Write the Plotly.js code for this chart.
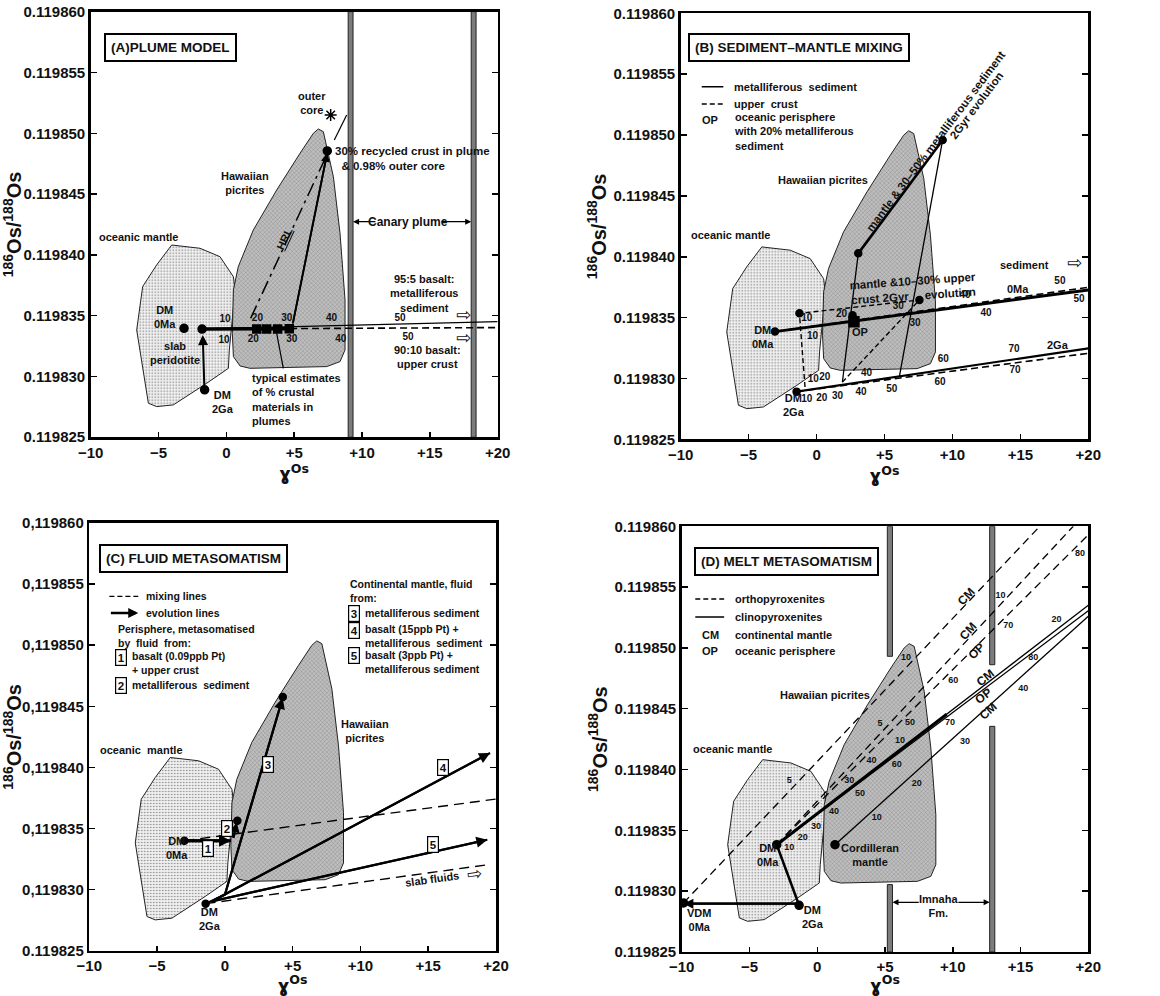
<!DOCTYPE html>
<html><head><meta charset="utf-8">
<script src="https://cdn.plot.ly/plotly-3.0.1.min.js"></script>
<style>html,body{margin:0;padding:0;background:#fff}#chart{width:1160px;height:996px}</style>
</head><body><div id="chart"></div>
<script>
// ---------- shared axes ----------
const xTickVals = [-10, -5, 0, 5, 10, 15, 20];
const xTickText = ['\u221210', '\u22125', '0', '+5', '+10', '+15', '+20'];
const yTickVals = [0.119825, 0.119830, 0.119835, 0.119840, 0.119845, 0.119850, 0.119855, 0.119860];
const yTickText = ['0.119825', '0.119830', '0.119835', '0.119840', '0.119845', '0.119850', '0.119855', '0.119860'];
const yTickTextC = ['0.119825', '0,119830', '0,119835', '0,119840', '0,119845', '0,119850', '0,119855', '0,119860'];

// ---------- shared fields ----------
const oceanicX = [-4.03, -1.94, -0.47, 0.52, 0.64, 0.22, 0.15, -1.45, -3.91, -5.14, -5.75, -6.61, -6.17, -5.14];
const oceanicY = [0.11984081, 0.11984054, 0.11983985, 0.1198382, 0.1198371, 0.11983218, 0.11983067, 0.11982944, 0.11982766, 0.11982752, 0.1198278, 0.11983382, 0.11983739, 0.11983917];
const hawaiiX = [6.78, 7.15, 7.89, 8.38, 8.75, 8.75, 8.38, 7.40, 1.74, 1.01, 0.52, 0.44, 0.52, 0.88, 1.99, 3.71, 5.43, 6.41];
const hawaiiY = [0.11985035, 0.11985013, 0.11984643, 0.11984177, 0.11983629, 0.11983218, 0.11983122, 0.11983081, 0.11983067, 0.11983086, 0.11983163, 0.11983355, 0.11983711, 0.11983903, 0.11984205, 0.11984533, 0.11984835, 0.11984999];

// ---------- panel A : plume model ----------
const aPtsX = [-3.12, -1.79, -1.60, 7.44];
const aPtsY = [0.11983396, 0.1198339, 0.1198289, 0.11984855];
const aSedX = [-1.79, 20];   const aSedY = [0.1198339, 0.11983451];
const aCrustX = [-1.79, 20]; const aCrustY = [0.1198339, 0.11983402];
const aThickX = [-1.79, 4.9]; const aThickY = [0.1198339, 0.11983393];
const aEstX = [2.24, 2.97, 3.78, 4.64]; const aEstY = [0.1198339, 0.1198339, 0.11983391, 0.11983392];
const aHrlX = [1.79, 7.4];   const aHrlY = [0.11983478, 0.1198482];
const aRecX = [4.9, 7.44];   const aRecY = [0.11983435, 0.1198484];
const aEvoX = [-1.62, -1.74]; const aEvoY = [0.1198290, 0.1198334];
const aCoreX = [7.69];       const aCoreY = [0.1198515];
const aSedLblX = [-0.1, 2.29, 4.45, 7.76, 12.8];
const aSedLblY = [0.11983465, 0.11983473, 0.11983473, 0.11983478, 0.11983478];
const aCrustLblX = [-0.17, 1.99, 4.82, 8.43, 13.4];
const aCrustLblY = [0.11983295, 0.119833, 0.11983306, 0.11983306, 0.11983322];
const aPctLbl = ['10', '20', '30', '40', '50'];
const aBandX = [9.16, 18.23];
const aCanaryY = 0.11984273;

// ---------- panel B : sediment-mantle mixing ----------
const bPtsX = [-3.06, -1.47, -1.26, 7.57, 3.07, 9.28, 2.65];
const bPtsY = [0.11983385, 0.11982892, 0.11983535, 0.11983645, 0.11984028, 0.1198496, 0.1198352];
const bOpX = [2.75]; const bOpY = [0.11983467];
const bSed0X = [-3.06, 20];   const bSed0Y = [0.11983385, 0.11983727];
const bCrust0X = [-3.06, 20]; const bCrust0Y = [0.11983385, 0.11983749];
const bSed2X = [-1.47, 20];   const bSed2Y = [0.11982892, 0.11983248];
const bCrust2X = [-1.47, 20]; const bCrust2Y = [0.11982892, 0.11983207];
const bMixSedX = [1.9, 3.07, 9.28, 6.1];
const bMixSedY = [0.1198297, 0.11984028, 0.1198496, 0.1198302];
const bMixCrustX = [-0.85, -1.26, 7.57];
const bMixCrustY = [0.1198293, 0.11983535, 0.11983645];
const bDiagX = [1.9, 7.57]; const bDiagY = [0.1198297, 0.11983645];
const bCrust0LblX = [-0.72, 1.84, 6.02, 10.93, 17.91];
const bCrust0LblY = [0.11983494, 0.11983522, 0.1198359, 0.11983678, 0.11983796];
const bCrust0Lbl = ['10', '20', '30', '40', '50'];
const bSed0LblX = [-0.3, 7.24, 12.47, 19.31];
const bSed0LblY = [0.11983349, 0.11983453, 0.11983535, 0.11983645];
const bSed0Lbl = ['10', '30', '40', '50'];
const bSed2LblX = [-0.24, 0.61, 3.68, 9.33, 14.53];
const bSed2LblY = [0.11982988, 0.11983007, 0.11983042, 0.11983152, 0.1198324];
const bSed2Lbl = ['10', '20', '40', '60', '70'];
const bCrust2LblX = [-0.72, 0.38, 1.55, 3.27, 5.53, 9.08, 14.6];
const bCrust2LblY = [0.11982829, 0.11982837, 0.11982851, 0.11982883, 0.11982911, 0.11982966, 0.11983064];
const bCrust2Lbl = ['10', '20', '30', '40', '50', '60', '70'];

// ---------- panel C : fluid metasomatism ----------
const cPtsX = [-2.99, -1.42, 0.92, 4.27];
const cPtsY = [0.119834, 0.11982885, 0.11983564, 0.11984576];
const cMixUpX = [-2.99, 20];     const cMixUpY = [0.119834, 0.11983741];
const cMixLowX = [-1.42, 19.43]; const cMixLowY = [0.11982885, 0.11983204];
const cEvo1X = [-2.99, 0.45];    const cEvo1Y = [0.119834, 0.119834];
const cEvo2X = [0.6, 0.88];      const cEvo2Y = [0.1198341, 0.1198355];
const cEvo3X = [-1.42, 0.0, 4.26]; const cEvo3Y = [0.11982885, 0.11982958, 0.11984568];
const cEvo4X = [-0.95, 19.56];   const cEvo4Y = [0.11982904, 0.11984118];
const cEvo5X = [-0.95, 19.36];   const cEvo5Y = [0.11982904, 0.11983408];

// ---------- panel D : melt metasomatism ----------
const dPtsX = [-2.99, -1.34, -9.87, 1.31];
const dPtsY = [0.11983382, 0.11982884, 0.11982903, 0.11983382];
const dOrthoCM1X = [-9.87, 16.42]; const dOrthoCM1Y = [0.11982903, 0.11986];
const dOrthoCM2X = [-2.99, 18.89]; const dOrthoCM2Y = [0.11983382, 0.11986];
const dOrthoOPX = [-2.99, 20];     const dOrthoOPY = [0.11983382, 0.1198593];
const dClinoCMX = [-2.99, 20];     const dClinoCMY = [0.11983382, 0.1198535];
const dClinoOPX = [-2.99, 20];     const dClinoOPY = [0.11983382, 0.11985306];
const dThickX = [-2.99, 9.55];     const dThickY = [0.11983382, 0.11984455];
const dCordX = [1.31, 20];         const dCordY = [0.11983382, 0.1198526];
const dEvoX = [-1.34, -2.99];      const dEvoY = [0.11982884, 0.11983382];
const dVdmX = [-1.34, -9.87];      const dVdmY = [0.11982897, 0.11982897];
const dLblX = [-2.06, -1.07, -0.09, 1.24, -2.06, 2.36, 3.15, 4.01, 5.86, 6.1, 4.63, 6.85, 9.8, 6.55, 10.04, 7.34, 4.39, 10.9, 15.2, 15.94, 17.66, 13.53, 14.1, 19.39];
const dLblY = [0.1198336, 0.11983437, 0.11983533, 0.11983651, 0.11983909, 0.11983909, 0.11983799, 0.11984076, 0.1198404, 0.1198424, 0.11984374, 0.11984383, 0.11984383, 0.11984923, 0.11984731, 0.11983881, 0.11983602, 0.11984232, 0.11984665, 0.11984917, 0.11985232, 0.11985432, 0.11985186, 0.11985772];
const dLbl = ['10', '20', '30', '40', '5', '30', '50', '40', '60', '10', '5', '50', '70', '10', '60', '20', '10', '30', '40', '80', '20', '10', '70', '80'];
const dBandX = [5.36, 5.36, 12.91, 12.91];
const dBandLo = [0.11984931, 0.119825, 0.11984862, 0.119825];
const dBandHi = [0.11986, 0.11983054, 0.11986, 0.11984355];
const dImnahaY = 0.11982908;

// ================= drawing =================
const FONT = 'Liberation Sans, Arial, sans-serif';
const TS = 11;   // main label size
const traces = [], annotations = [], shapes = [];
const r = p => (p === 1 ? '' : String(p));

function region(p, xs, ys, dark) {
  traces.push({type: 'scatter', mode: 'lines', x: xs.concat([xs[0]]), y: ys.concat([ys[0]]),
    xaxis: 'x' + r(p), yaxis: 'y' + r(p), fill: 'toself',
    fillcolor: dark ? '#bdbdbd' : '#eeeeee',
    fillpattern: dark ? {shape: 'x', bgcolor: '#bebebe', fgcolor: '#5e5e5e', size: 3, solidity: 0.15}
                      : {shape: '.', bgcolor: '#f0f0f0', fgcolor: '#808080', size: 3, solidity: 0.2},
    line: {color: '#222', width: 1}, hoverinfo: 'skip', showlegend: false});
}
function line(p, xs, ys, width, dash) {
  traces.push({type: 'scatter', mode: 'lines', x: xs, y: ys, xaxis: 'x' + r(p), yaxis: 'y' + r(p),
    line: {color: '#000', width: width || 1.2, dash: dash || 'solid'}, hoverinfo: 'skip', showlegend: false});
}
function dots(p, xs, ys, symbol, size) {
  traces.push({type: 'scatter', mode: 'markers', x: xs, y: ys, xaxis: 'x' + r(p), yaxis: 'y' + r(p),
    marker: {color: '#000', size: size || 7, symbol: symbol || 'circle', line: {color: '#000', width: 1.5}},
    hoverinfo: 'skip', showlegend: false});
}
function labels(p, xs, ys, texts, size) {
  traces.push({type: 'scatter', mode: 'text', x: xs, y: ys, text: texts, xaxis: 'x' + r(p), yaxis: 'y' + r(p),
    textfont: {family: FONT, size: size || 9, color: '#111', weight: 'bold'}, hoverinfo: 'skip', showlegend: false});
}
function T(p, x, y, text, o) {
  o = o || {};
  const a = {xref: p === 0 ? 'paper' : 'x' + r(p), yref: p === 0 ? 'paper' : 'y' + r(p), x: x, y: y, text: text,
    showarrow: false, xanchor: o.xa || 'center', yanchor: o.ya || 'middle', align: o.align || 'center',
    textangle: o.angle || 0,
    font: {family: o.family || FONT, size: o.size || TS, color: '#111', weight: o.weight || 'bold'}};
  if (o.border) { a.bordercolor = '#000'; a.borderwidth = o.border; a.borderpad = o.pad || 1; a.bgcolor = '#fff'; }
  annotations.push(a);
}
function A(p, x0, y0, x1, y1, o) {
  o = o || {};
  annotations.push({xref: 'x' + r(p), yref: 'y' + r(p), axref: 'x' + r(p), ayref: 'y' + r(p),
    x: x1, y: y1, ax: x0, ay: y0, text: '', showarrow: true, arrowhead: o.head == null ? 2 : o.head,
    arrowsize: o.size || 1, arrowwidth: o.width || 1.5, arrowcolor: '#000', standoff: 0, startstandoff: 0});
}
function band(p, xc, lo, hi, hw) {
  shapes.push({type: 'rect', xref: 'x' + r(p), yref: 'y' + r(p), x0: xc - hw, x1: xc + hw, y0: lo, y1: hi,
    fillcolor: '#7c7c7c', line: {color: '#222', width: 1}, layer: 'below'});
}
function seg(p, x0, y0, x1, y1, w, dash) {
  shapes.push({type: 'line', xref: 'x' + r(p), yref: 'y' + r(p), x0: x0, y0: y0, x1: x1, y1: y1,
    line: {color: '#000', width: w || 1.3, dash: dash || 'solid'}});
}
const HOLLOW = {family: 'DejaVu Sans', size: 18, weight: 'normal'};

// ---- fields in all panels
for (let p = 1; p <= 4; p++) { region(p, oceanicX, oceanicY, false); region(p, hawaiiX, hawaiiY, true); }

// ---- panel A
aBandX.forEach(xc => band(1, xc, 0.119825, 0.11986, 0.18));
line(1, aCrustX, aCrustY, 1.6, '7px,4px');
line(1, aSedX, aSedY, 1.3);
line(1, aThickX, aThickY, 3.5);
line(1, aHrlX, aHrlY, 1.5, '14px,5px,3px,5px');
line(1, aRecX, aRecY, 1.8);
A(1, aRecX[0], aRecY[0], aRecX[1], aRecY[1], {width: 1.8});
A(1, aEvoX[0], aEvoY[0], aEvoX[1], aEvoY[1], {width: 2});
dots(1, aPtsX, aPtsY, 'circle', 8);
dots(1, aEstX, aEstY, 'square', 8);
dots(1, aCoreX, aCoreY, 'asterisk-open', 10);
labels(1, aSedLblX, aSedLblY, aPctLbl, 10);
labels(1, aCrustLblX, aCrustLblY, aPctLbl, 10);
seg(1, 7.96, 0.11984945, 8.87, 0.1198515, 1.2);
seg(1, 4.2, 0.11983067, 3.71, 0.11983355, 1.2);
A(1, 11.1, aCanaryY, aBandX[0] + 0.18, aCanaryY, {width: 1.2, head: 2});
A(1, 15.75, aCanaryY, aBandX[1] - 0.18, aCanaryY, {width: 1.2, head: 2});
T(1, 13.41, aCanaryY, 'Canary plume', {size: 12});
T(1, 6.29, 0.11985246, 'outer<br>core');
T(1, 7.89, 0.11984794, '30% recycled crust in plume<br>  & 0.98% outer core', {xa: 'left', align: 'left', size: 11.5});
T(1, 1.38, 0.11984588, 'Hawaiian<br>picrites');
T(1, -6.49, 0.11984144, 'oceanic mantle');
T(1, -4.52, 0.11983492, 'DM<br>0Ma');
T(1, -3.78, 0.1198319, 'slab<br>peridotite');
T(1, -0.27, 0.11982793, 'DM<br>2Ga');
T(1, 1.74, 0.11982807, 'typical estimates<br>of % crustal<br>materials in<br>plumes', {xa: 'left', align: 'left'});
T(1, 14.55, 0.1198368, '95:5 basalt:<br>metalliferous<br>sediment');
T(1, 14.8, 0.11983163, '90:10 basalt:<br>upper crust');
T(1, 17.5, 0.11983512, '\u21E8', HOLLOW);
T(1, 17.5, 0.11983318, '\u21E8', HOLLOW);
T(1, 4.32, 0.11984136, '<u>HRL</u>', {angle: -65, size: 11});
T(0, 0.1466, 0.9523, '(A)PLUME MODEL', {size: 13.5, border: 2, pad: 5});

// ---- panel B
line(2, bCrust0X, bCrust0Y, 1.6, '7px,4px');
line(2, bSed0X, bSed0Y, 3);
line(2, bCrust2X, bCrust2Y, 1.6, '7px,4px');
line(2, bSed2X, bSed2Y, 2.2);
line(2, bMixCrustX, bMixCrustY, 1.4, '5px,3px');
line(2, bDiagX, bDiagY, 1.4, '5px,3px');
line(2, bMixSedX.slice(0, 2), bMixSedY.slice(0, 2), 1.3);
line(2, bMixSedX.slice(1, 3), bMixSedY.slice(1, 3), 2.6);
line(2, bMixSedX.slice(2, 4), bMixSedY.slice(2, 4), 1.3);
dots(2, bPtsX, bPtsY, 'circle', 7);
dots(2, bOpX, bOpY, 'square', 10);
labels(2, bCrust0LblX, bCrust0LblY, bCrust0Lbl, 10);
labels(2, bSed0LblX, bSed0LblY, bSed0Lbl, 10);
labels(2, bSed2LblX, bSed2LblY, bSed2Lbl, 10);
labels(2, bCrust2LblX, bCrust2LblY, bCrust2Lbl, 10);
seg(2, -8.45, 0.11985397, -6.86, 0.11985397, 1.3);
seg(2, -8.45, 0.11985255, -6.86, 0.11985255, 1.3, '5px,3px');
T(2, -6.25, 0.11985397, 'metalliferous  sediment', {xa: 'left'});
T(2, -6.25, 0.11985255, 'upper  crust', {xa: 'left'});
T(2, -7.84, 0.11985124, 'OP');
T(2, -6.25, 0.11985028, 'oceanic perisphere<br>with 20% metalliferous<br>sediment', {xa: 'left', align: 'left'});
T(2, 14.85, 0.11983733, '0Ma');
T(2, 17.79, 0.11983275, '2Ga');
T(2, 15.3, 0.11983932, 'sediment');
T(2, 18.95, 0.11983952, '\u21E8', HOLLOW);
T(2, -3.96, 0.11983344, 'DM<br>0Ma');
T(2, -1.63, 0.11982782, 'DM<br>2Ga');
T(2, 3.19, 0.11983385, 'OP');
T(2, 0.45, 0.11984631, 'Hawaiian picrites');
T(2, -6.32, 0.11984179, 'oceanic mantle');
T(2, 8.77, 0.11984954, 'mantle & 30\u201350% metalliferous sediment', {angle: -53, size: 11.5});
T(2, 11.79, 0.11985247, '2Gyr evolution', {angle: -53, size: 11.5});
T(2, 7.12, 0.11983741, 'mantle &10\u201330% upper<br>crust 2Gyr     evolution', {angle: -4, size: 11.5});
T(0, 0.6884, 0.9523, '(B) SEDIMENT\u2013MANTLE MIXING', {size: 13.5, border: 2, pad: 5});

// ---- panel C
line(3, cMixUpX, cMixUpY, 1.4, '10px,6px');
line(3, cMixLowX, cMixLowY, 1.4, '10px,6px');
line(3, cEvo1X, cEvo1Y, 3);
line(3, cEvo3X, cEvo3Y, 2.2);
line(3, cEvo4X, cEvo4Y, 2.2);
line(3, cEvo5X, cEvo5Y, 2.2);
A(3, cEvo1X[0], cEvo1Y[0], cEvo1X[1], cEvo1Y[1], {width: 3, size: 0.8});
A(3, cEvo2X[0], cEvo2Y[0], cEvo2X[1], cEvo2Y[1], {width: 2.5, size: 0.8});
A(3, cEvo3X[1], cEvo3Y[1], cEvo3X[2], cEvo3Y[2], {width: 2.2});
A(3, cEvo4X[0], cEvo4Y[0], cEvo4X[1], cEvo4Y[1], {width: 2.2});
A(3, cEvo5X[0], cEvo5Y[0], cEvo5X[1], cEvo5Y[1], {width: 2.2});
dots(3, cPtsX, cPtsY, 'circle', 7);
const BX = {size: 11.5, border: 1.2, pad: 1.5};
T(3, -1.22, 0.11983335, '1', BX);
T(3, 0.13, 0.11983498, '2', BX);
T(3, 3.2, 0.11984022, '3', BX);
T(3, 16.11, 0.11983995, '4', BX);
T(3, 15.38, 0.11983367, '5', BX);
seg(3, -8.52, 0.11985399, -6.39, 0.11985399, 1.3, '5px,3px');
A(3, -8.52, 0.11985263, -6.39, 0.11985263, {width: 2.5, size: 0.8});
const LC = {xa: 'left', align: 'left', size: 10.5};
T(3, -5.97, 0.11985399, 'mixing lines', LC);
T(3, -5.97, 0.11985263, 'evolution lines', LC);
T(3, -8.03, 0.11985072, 'Perisphere, metasomatised<br>by  fluid  from:', LC);
T(3, -7.66, 0.119849, '1', BX);
T(3, -7.0, 0.11984851, 'basalt (0.09ppb Pt)<br>+ upper crust', LC);
T(3, -7.66, 0.11984671, '2', BX);
T(3, -7.0, 0.11984671, 'metalliferous  sediment', LC);
T(3, 9.11, 0.11985441, 'Continental mantle, fluid<br>from:', LC);
T(3, 9.53, 0.11985263, '3', BX);
T(3, 10.2, 0.11985263, 'metalliferous sediment', LC);
T(3, 9.53, 0.11985121, '4', BX);
T(3, 10.2, 0.11985072, 'basalt (15ppb Pt) +<br>metalliferous  sediment', LC);
T(3, 9.53, 0.11984914, '5', BX);
T(3, 10.2, 0.11984862, 'basalt (3ppb Pt) +<br>metalliferous sediment', LC);
T(3, 10.34, 0.11984295, 'Hawaiian<br>picrites');
T(3, -6.14, 0.11984145, 'oceanic  mantle');
T(3, -3.51, 0.1198334, 'DM<br>0Ma');
T(3, -1.1, 0.11982762, 'DM<br>2Ga');
T(3, 15.3, 0.11983085, 'slab fluids', {angle: -8});
T(3, 18.4, 0.11983128, '\u21E8', Object.assign({angle: -8}, HOLLOW));
T(0, 0.1672, 0.4388, '(C) FLUID METASOMATISM', {size: 13.5, border: 2, pad: 5});

// ---- panel D
for (let i = 0; i < dBandX.length; i++) band(4, dBandX[i], dBandLo[i], dBandHi[i], 0.19);
line(4, dOrthoCM1X, dOrthoCM1Y, 1.3, '8px,5px');
line(4, dOrthoCM2X, dOrthoCM2Y, 1.3, '8px,5px');
line(4, dOrthoOPX, dOrthoOPY, 1.3, '8px,5px');
line(4, dClinoCMX, dClinoCMY, 1.3);
line(4, dClinoOPX, dClinoOPY, 1.3);
line(4, dThickX, dThickY, 3);
line(4, dCordX, dCordY, 1.3);
line(4, dEvoX, dEvoY, 2.5);
line(4, dVdmX, dVdmY, 2.2);
A(4, dVdmX[0], dVdmY[0], dVdmX[1], dVdmY[1], {width: 2.2, size: 0.9});
dots(4, dPtsX, dPtsY, 'circle', 8);
labels(4, dLblX, dLblY, dLbl, 9);
A(4, 7.6, dImnahaY, 5.55, dImnahaY, {width: 1.2});
A(4, 10.3, dImnahaY, 12.72, dImnahaY, {width: 1.2});
T(4, 8.93, 0.11982875, 'Imnaha<br>Fm.');
T(4, 11.03, 0.11985424, 'CM', {angle: -47, size: 12});
T(4, 11.15, 0.11985136, 'CM', {angle: -47, size: 12});
T(4, 11.76, 0.11984972, 'OP', {angle: -45, size: 12});
T(4, 12.38, 0.11984753, 'CM', {angle: -38, size: 12});
T(4, 12.26, 0.11984602, 'OP', {angle: -38, size: 12});
T(4, 12.63, 0.11984479, 'CM', {angle: -42, size: 12});
seg(4, -9.0, 0.11985402, -6.87, 0.11985402, 1.3, '5px,3px');
seg(4, -9.0, 0.11985254, -6.87, 0.11985254, 1.3);
T(4, -6.19, 0.11985402, 'orthopyroxenites', {xa: 'left'});
T(4, -6.19, 0.11985254, 'clinopyroxenites', {xa: 'left'});
T(4, -7.91, 0.11985103, 'CM');
T(4, -6.19, 0.11985103, 'continental mantle', {xa: 'left'});
T(4, -7.91, 0.11984977, 'OP');
T(4, -6.19, 0.11984977, 'oceanic perisphere', {xa: 'left'});
T(4, 0.57, 0.11984616, 'Hawaiian picrites');
T(4, -6.24, 0.11984172, 'oceanic mantle');
T(4, -3.61, 0.119833, 'DM<br>0Ma');
T(4, -0.29, 0.11982785, 'DM<br>2Ga');
T(4, -8.69, 0.11982766, 'VDM<br>0Ma');
T(4, 1.6, 0.119833, 'Cordilleran<br>mantle', {xa: 'left'});
T(0, 0.678, 0.4362, '(D) MELT METASOMATISM', {size: 13.5, border: 2, pad: 5});

// ================= layout =================
const layout = {width: 1160, height: 996, margin: {l: 0, r: 0, t: 0, b: 0},
  paper_bgcolor: '#fff', plot_bgcolor: '#fff', showlegend: false, annotations: annotations, shapes: shapes};
const domains = [
  {x: [0.0782, 0.4290], y: [0.5610, 0.9883], yt: yTickText},
  {x: [0.5868, 0.9382], y: [0.5589, 0.9866], yt: yTickText},
  {x: [0.0770, 0.4276], y: [0.0455, 0.4749], yt: yTickTextC},
  {x: [0.5877, 0.9382], y: [0.0442, 0.4716], yt: yTickText}
];
domains.forEach((d, i) => {
  const s = r(i + 1);
  const tf = {family: FONT, size: 15, color: '#111', weight: 'bold'};
  layout['xaxis' + s] = {domain: d.x, anchor: 'y' + s, range: [-10, 20], tickvals: xTickVals, ticktext: xTickText,
    ticks: 'inside', ticklen: 5, tickwidth: 1.5, tickcolor: '#000', showline: true, linewidth: 2.5, linecolor: '#000',
    mirror: true, showgrid: false, zeroline: false, tickfont: tf, fixedrange: true,
    title: {text: '\u0263<sup>Os</sup>', font: {family: 'DejaVu Sans', size: 18, color: '#111', weight: 'bold'}, standoff: 0}};
  layout['yaxis' + s] = {domain: d.y, anchor: 'x' + s, range: [0.119825, 0.119860], tickvals: yTickVals, ticktext: d.yt,
    ticks: 'inside', ticklen: 6, tickwidth: 1.5, tickcolor: '#000', showline: true, linewidth: 2.5, linecolor: '#000',
    mirror: 'ticks', showgrid: false, zeroline: false, tickfont: tf, fixedrange: true,
    title: {text: '<sup>186</sup>Os/<sup>188</sup>Os', font: {family: FONT, size: 20, color: '#111', weight: 'bold'}, standoff: 2}};
});

Plotly.newPlot('chart', traces, layout, {staticPlot: true, displayModeBar: false});
</script>
</body></html>
